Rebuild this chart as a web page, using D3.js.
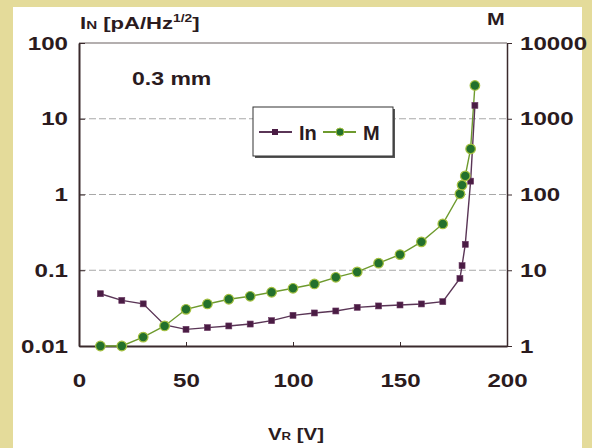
<!DOCTYPE html>
<html>
<head>
<meta charset="utf-8">
<script src="https://cdn.jsdelivr.net/npm/d3@7"></script>
<style>
body{margin:0;background:#e4db9a;}
svg{display:block;}
text{font-family:"Liberation Sans",Arial,sans-serif;font-weight:bold;fill:#2b1b1e;}
</style>
</head>
<body>
<svg id="chart" width="592" height="448"></svg>
<script>
// reverse bias voltage [V]
const voltage = [10,20,30,40,50,60,70,80,90,100,110,120,130,140,150,160,170,178,179,180.5,183,185];
// noise current In [pA/Hz^1/2]
const noiseIn = [0.049,0.040,0.036,0.019,0.0166,0.0175,0.0184,0.0195,0.0216,0.0254,0.0273,0.029,0.0324,0.0338,0.0348,0.0359,0.0385,0.078,0.115,0.22,1.5,15];
// gain M
const gainM = [1.0,1.0,1.31,1.84,3.05,3.59,4.14,4.53,5.12,5.78,6.59,8.07,9.5,12.4,16.1,23.7,40.9,102,133,176,400,2750];

const leftTicks = [0.01,0.1,1,10,100];
const rightTicks = [1,10,100,1000,10000];
const xTicks = [0,50,100,150,200];
const gridTicks = [0.1,1,10];

const SX = 1.27; // the scanned tick lettering is wide
const svg = d3.select("#chart");
const m = {left:79, right:507, top:43, bottom:346};

svg.append("rect").attr("x",13).attr("y",7).attr("width",569).attr("height",441).attr("fill","#fff");

const x = d3.scaleLinear().domain([0,200]).range([m.left,m.right]);
const yL = d3.scaleLog().domain([0.01,100]).range([m.bottom,m.top]);
const yR = d3.scaleLog().domain([1,10000]).range([m.bottom,m.top]);

function label(str, px, py, size, sx){
    return svg.append("text")
	.attr("transform","translate("+px+","+py+") scale("+(sx||1)+",1)")
	.attr("font-size",size)
	.text(str);
}

// grid
svg.append("g").selectAll("line")
    .data(gridTicks)
    .enter().append("line")
    .attr("x1",m.left).attr("x2",m.right)
    .attr("y1",d=>yL(d)).attr("y2",d=>yL(d))
    .attr("stroke","#a8a8a8")
    .attr("stroke-dasharray","7,3");

// frame top
svg.append("line")
    .attr("x1",m.left).attr("x2",m.right).attr("y1",m.top).attr("y2",m.top)
    .attr("stroke","#6a6060").attr("stroke-width",1.2);

function styleAxis(g){
    g.attr("font-size",19).attr("font-family",null);
    g.select(".domain").attr("stroke","#3a2a2c").attr("stroke-width",2);
    g.selectAll(".tick line").attr("stroke","#3a2a2c");
    g.selectAll(".tick text")
	.attr("transform","scale("+SX+",1)")
	.attr("fill","#2b1b1e");
}

var gl = svg.append("g").attr("transform","translate("+m.left+",0)")
    .call(d3.axisLeft(yL).tickValues(leftTicks).tickFormat(d3.format("~g")).tickSizeInner(-6).tickSizeOuter(0));
styleAxis(gl);
gl.selectAll(".tick text").attr("x",-11/SX);

var gr = svg.append("g").attr("transform","translate("+m.right+",0)")
    .call(d3.axisRight(yR).tickValues(rightTicks).tickFormat(d3.format("~g")).tickSizeInner(5).tickSizeOuter(0));
styleAxis(gr);
gr.select(".domain").attr("stroke-width",1.5);
gr.selectAll(".tick text").attr("x",13/SX);

var gb = svg.append("g").attr("transform","translate(0,"+m.bottom+")")
    .call(d3.axisBottom(x).tickValues(xTicks).tickFormat(d3.format("d")).tickSizeInner(-4).tickSizeOuter(0));
styleAxis(gb);
gb.selectAll(".tick text").attr("y",41).attr("dy",0);

// series
const lineIn = d3.line().x((d,i)=>x(voltage[i])).y(d=>yL(d));
const lineM = d3.line().x((d,i)=>x(voltage[i])).y(d=>yR(d));

svg.append("path").datum(gainM).attr("d",lineM)
    .attr("fill","none").attr("stroke","#6e9a2e").attr("stroke-width",1.4);
svg.append("path").datum(noiseIn).attr("d",lineIn)
    .attr("fill","none").attr("stroke","#5a3556").attr("stroke-width",1.4);

svg.append("g").selectAll("rect")
    .data(noiseIn)
    .enter().append("rect")
    .attr("x",(d,i)=>x(voltage[i])-3).attr("y",d=>yL(d)-3)
    .attr("width",6).attr("height",6)
    .attr("fill","#4a1c44").attr("stroke","#6b3a63").attr("stroke-width",0.6);

svg.append("g").selectAll("circle")
    .data(gainM)
    .enter().append("circle")
    .attr("cx",(d,i)=>x(voltage[i])).attr("cy",d=>yR(d))
    .attr("r",4.8)
    .attr("fill","#23702c").attr("stroke","#a4c040").attr("stroke-width",1.2);

// legend
const legend = [
    {name:"In", line:"#5a3556", mark:"rect", fill:"#4a1c44"},
    {name:"M", line:"#6e9a2e", mark:"circle", fill:"#23702c"}
];
svg.append("rect").attr("x",255).attr("y",109).attr("width",140).attr("height",49).attr("fill","#555");
svg.append("rect").attr("x",253).attr("y",107).attr("width",140).attr("height",49)
    .attr("fill","#fff").attr("stroke","#333").attr("stroke-width",1);
var lx = 259;
legend.forEach(function(s){
    svg.append("line").attr("x1",lx).attr("x2",lx+33).attr("y1",132).attr("y2",132)
	.attr("stroke",s.line).attr("stroke-width",2);
    if(s.mark=="rect")
	svg.append("rect").attr("x",lx+13).attr("y",129).attr("width",6).attr("height",6).attr("fill",s.fill);
    else
	svg.append("circle").attr("cx",lx+17).attr("cy",132).attr("r",4).attr("fill",s.fill).attr("stroke","#a4c040");
    label(s.name, lx+40, 140, 20);
    lx += 64;
});

// titles
label("0.3 mm", 132, 85, 18, 1.28);
label("M", 487, 25, 17, 1.25);
var t = svg.append("text").attr("transform","translate(80,29) scale(1.38,1)").attr("font-size",16);
t.append("tspan").text("I");
t.append("tspan").attr("font-size",11).text("N");
t.append("tspan").text("  [pA/Hz");
t.append("tspan").attr("font-size",10).attr("dy",-7).text("1/2");
t.append("tspan").attr("dy",7).text("]");
var v = svg.append("text").attr("transform","translate(296,440) scale(1.2,1)").attr("text-anchor","middle").attr("font-size",17);
v.append("tspan").text("V");
v.append("tspan").attr("font-size",11).text("R");
v.append("tspan").text(" [V]");
</script>
</body>
</html>
